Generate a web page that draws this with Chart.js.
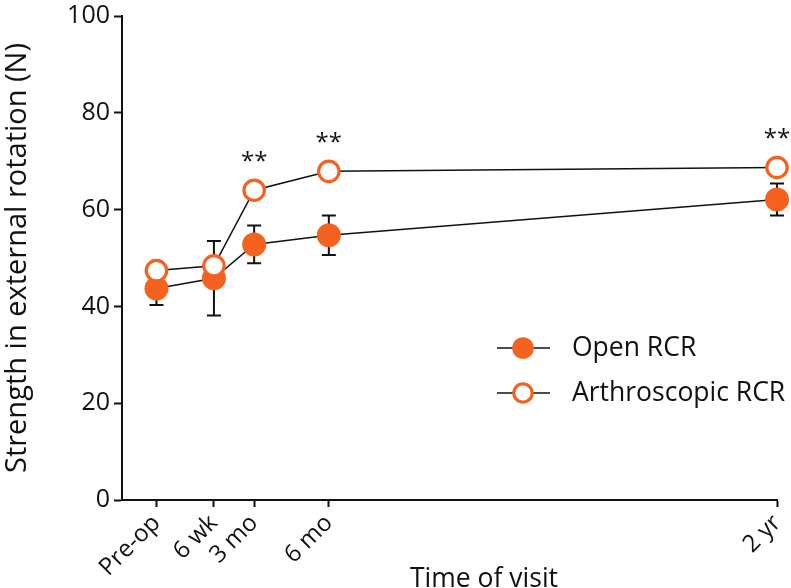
<!DOCTYPE html>
<html>
<head>
<meta charset="utf-8">
<script src="https://cdn.jsdelivr.net/npm/chart.js@4/dist/chart.umd.min.js"></script>
<style>
  html, body { margin: 0; padding: 0; background: #fff; }
  #c { display: block; }
</style>
</head>
<body>
<canvas id="c" width="791" height="588"></canvas>
<script>
// ---- data ----
const categories = ['Pre-op', '6 wk', '3 mo', '6 mo', '2 yr'];
const visitWeeks = [-4, 6, 13, 26, 104];
const openMean = [43.7, 45.8, 52.8, 54.7, 62.1];
const openErr = [3.4, 7.7, 3.9, 4.1, 3.3];
const arthroMean = [47.4, 48.4, 64.0, 67.9, 68.7];
const significance = ['', '', '**', '**', '**'];
const seriesNames = ['Open RCR', 'Arthroscopic RCR'];
const yTickValues = [0, 20, 40, 60, 80, 100];
const xAxisTitle = 'Time of visit';
const yAxisTitle = 'Strength in external rotation (N)';

const ORANGE = '#f4621f';
const FONT = '"Open Sans"';

const openData = visitWeeks.map((w, i) => ({ x: w, y: openMean[i] }));
const arthroData = visitWeeks.map((w, i) => ({ x: w, y: arthroMean[i] }));

const errorBarPlugin = {
  id: 'errorBars',
  beforeDatasetsDraw(chart) {
    const { ctx, scales: { x, y } } = chart;
    ctx.save();
    ctx.strokeStyle = '#111';
    ctx.lineWidth = 2;
    visitWeeks.forEach((w, i) => {
      const px = x.getPixelForValue(w);
      const top = y.getPixelForValue(openMean[i] + openErr[i]);
      const bot = y.getPixelForValue(openMean[i] - openErr[i]);
      ctx.beginPath();
      ctx.moveTo(px, top); ctx.lineTo(px, bot);
      ctx.moveTo(px - 7, top); ctx.lineTo(px + 7, top);
      ctx.moveTo(px - 7, bot); ctx.lineTo(px + 7, bot);
      ctx.stroke();
    });
    ctx.restore();
  }
};

const extrasPlugin = {
  id: 'extras',
  afterDraw(chart) {
    const { ctx, scales: { x, y } } = chart;
    ctx.save();
    // significance marks
    ctx.fillStyle = '#111';
    ctx.font = '24px ' + FONT;
    ctx.textAlign = 'center';
    ctx.textBaseline = 'alphabetic';
    significance.forEach((s, i) => {
      if (!s) return;
      const px = x.getPixelForValue(visitWeeks[i]);
      const py = y.getPixelForValue(arthroMean[i]) - 21;
      ctx.fillText(s, px, py);
    });
    // x-axis title
    ctx.font = '26.5px ' + FONT;
    ctx.textAlign = 'left';
    ctx.fillText(xAxisTitle, 410, 587);
    // legend
    const rows = [348, 393];
    chart.data.datasets.forEach((ds, i) => {
      const ly = rows[i];
      ctx.strokeStyle = '#111';
      ctx.lineWidth = 1.5;
      ctx.beginPath();
      ctx.moveTo(497, ly); ctx.lineTo(550, ly);
      ctx.stroke();
      ctx.beginPath();
      ctx.arc(523, ly, ds.pointRadius * 0.9, 0, Math.PI * 2);
      ctx.fillStyle = ds.pointBackgroundColor;
      ctx.fill();
      if (ds.pointBorderWidth > 0) {
        ctx.lineWidth = ds.pointBorderWidth;
        ctx.strokeStyle = ds.pointBorderColor;
        ctx.stroke();
      }
      ctx.fillStyle = '#111';
      ctx.font = '26.5px ' + FONT;
      ctx.textAlign = 'left';
      ctx.textBaseline = 'middle';
      ctx.fillText(ds.label, 572, ly);
    });
    ctx.restore();
  }
};

function zeroPad(scale) {
  scale.paddingLeft = 0; scale.paddingRight = 0;
  scale.paddingTop = 0; scale.paddingBottom = 0;
}

new Chart(document.getElementById('c'), {
  type: 'scatter',
  data: {
    datasets: [
      {
        label: seriesNames[0],
        data: openData,
        showLine: true,
        clip: false,
        borderColor: '#111',
        borderWidth: 1.5,
        pointRadius: 12,
        pointHoverRadius: 12,
        pointBackgroundColor: ORANGE,
        pointBorderColor: ORANGE,
        pointBorderWidth: 0,
        order: 1
      },
      {
        label: seriesNames[1],
        data: arthroData,
        showLine: true,
        clip: false,
        borderColor: '#111',
        borderWidth: 1.5,
        pointRadius: 10.2,
        pointHoverRadius: 10.2,
        pointBackgroundColor: '#ffffff',
        pointBorderColor: ORANGE,
        pointBorderWidth: 3.2,
        order: 0
      }
    ]
  },
  options: {
    responsive: false,
    animation: false,
    layout: { padding: { top: 16, right: 14, left: 0, bottom: 0 } },
    plugins: { legend: { display: false }, tooltip: { enabled: false } },
    scales: {
      x: {
        type: 'linear',
        min: -10,
        max: 104,
        afterBuildTicks: (scale) => { scale.ticks = visitWeeks.map(v => ({ value: v })); },
        afterFit: (scale) => { scale.height = 88; zeroPad(scale); },
        ticks: {
          autoSkip: false,
          minRotation: 45,
          maxRotation: 45,
          padding: 2,
          color: '#111',
          font: { family: FONT, size: 24 },
          callback: (v) => categories[visitWeeks.indexOf(v)]
        },
        grid: { display: true, drawOnChartArea: false, drawTicks: true, tickLength: 7, tickWidth: 2, tickColor: '#111' },
        border: { display: true, color: '#111', width: 2 }
      },
      y: {
        min: 0,
        max: 100,
        afterBuildTicks: (scale) => { scale.ticks = yTickValues.map(v => ({ value: v })); },
        afterFit: (scale) => { scale.width = 122; zeroPad(scale); },
        ticks: {
          padding: 4,
          color: '#111',
          font: { family: FONT, size: 25 }
        },
        title: {
          display: true,
          text: yAxisTitle,
          color: '#111',
          font: { family: FONT, size: 29 },
          padding: { top: 0, bottom: 0 }
        },
        grid: { display: true, drawOnChartArea: false, drawTicks: true, tickLength: 8, tickWidth: 2, tickColor: '#111' },
        border: { display: true, color: '#111', width: 2 }
      }
    }
  },
  plugins: [errorBarPlugin, extrasPlugin]
});
</script>
</body>
</html>
